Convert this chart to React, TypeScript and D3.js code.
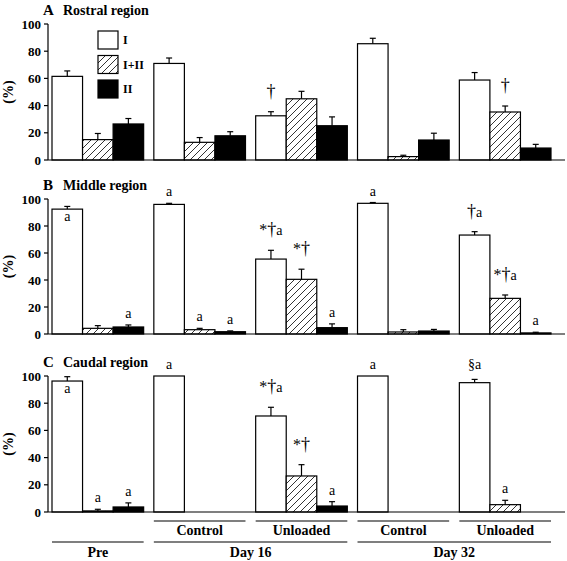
import React from "react";
import * as d3 from "d3";

const groups = ["Pre", "D16 Control", "D16 Unloaded", "D32 Control", "D32 Unloaded"];
const seriesNames = ["I", "I+II", "II"];
const yTicks = [0, 20, 40, 60, 80, 100];

// Rostral region (A)
const rostralI = [61.5, 71, 32.5, 85.5, 58.8];
const rostralIErr = [4, 4, 3, 4, 5.5];
const rostralI_II = [15, 13, 45, 2.5, 35.3];
const rostralI_IIErr = [4.5, 3.5, 5.5, 1, 4.4];
const rostralII = [26.5, 17.8, 25.2, 14.7, 8.8];
const rostralIIErr = [4, 3, 6.5, 5, 2.7];
const rostralAnnI = ["", "", "†", "", ""];
const rostralAnnI_II = ["", "", "", "", "†"];
const rostralAnnII = ["", "", "", "", ""];

// Middle region (B)
const middleI = [92.5, 96, 55.5, 96.8, 73.3];
const middleIErr = [2, 0.8, 6.5, 0.6, 2.5];
const middleI_II = [4.2, 3.2, 40.5, 1.5, 26.4];
const middleI_IIErr = [2, 1, 7.5, 1.7, 2.5];
const middleII = [5.2, 1.7, 4.7, 2.2, 0.8];
const middleIIErr = [1.5, 0.6, 2.8, 1.2, 0.5];
const middleAnnI = ["a", "a", "*†a", "a", "†a"];
const middleAnnI_II = ["", "a", "*†", "", "*†a"];
const middleAnnII = ["a", "a", "a", "", "a"];

// Caudal region (C)
const caudalI = [96.3, 100, 70.6, 100, 95.1];
const caudalIErr = [3.2, 0, 6.4, 0, 2.4];
const caudalI_II = [0.8, 0, 26.5, 0, 5.4];
const caudalI_IIErr = [1.2, 0, 8.3, 0, 3.2];
const caudalII = [3.7, 0, 4.4, 0, 0];
const caudalIIErr = [3, 0, 3.2, 0, 0];
const caudalAnnI = ["a", "a", "*†a", "a", "§a"];
const caudalAnnI_II = ["a", "", "*†", "", "a"];
const caudalAnnII = ["a", "", "a", "", ""];

const FONT = "'Liberation Serif', 'Times New Roman', serif";

const xGroup = d3.scaleBand<string>().domain(groups).range([52, 551]).paddingInner(0.1).paddingOuter(0);
const xSeries = d3.scaleBand<string>().domain(seriesNames).range([0, xGroup.bandwidth()]).padding(0);

const fills = ["#fff", "url(#hatch)", "#000"];

function Annot({ x, y, text }: { x: number; y: number; text: string }) {
  const parts = text.split("");
  return (
    <text x={x} y={y} textAnchor="middle" fontFamily={FONT} fontSize={14} fill="#000">
      {parts.map((c, i) => (
        <tspan key={i} fontSize={c === "†" ? 18 : c === "*" ? 16 : 14}>{c}</tspan>
      ))}
    </text>
  );
}

function Panel(props: {
  letter: string; title: string; top: number; bottom: number;
  values: number[][]; errs: number[][]; annots: string[][]; insideFirst: boolean;
}) {
  const { letter, title, top, bottom, values, errs, annots, insideFirst } = props;
  const y = d3.scaleLinear().domain([0, 100]).range([bottom, top]);
  return (
    <g>
      <text x={43} y={top - 9} fontFamily={FONT} fontWeight="bold" fontSize={15}>{letter}</text>
      <text x={63} y={top - 9} fontFamily={FONT} fontWeight="bold" fontSize={14}>{title}</text>
      <text transform={`translate(13,${(top + bottom) / 2}) rotate(-90)`} textAnchor="middle"
        fontFamily={FONT} fontWeight="bold" fontSize={14}>(%)</text>
      {yTicks.map((t) => (
        <g key={t}>
          <line x1={44} x2={48} y1={y(t)} y2={y(t)} stroke="#000" strokeWidth={1.2} />
          <text x={41} y={y(t) + 4.5} textAnchor="end" fontFamily={FONT} fontWeight="bold" fontSize={13}>{t}</text>
        </g>
      ))}
      <line x1={48} x2={48} y1={top} y2={bottom} stroke="#000" strokeWidth={1.2} />
      {seriesNames.map((s, si) =>
        groups.map((g, gi) => {
          const v = values[si][gi];
          const e = errs[si][gi];
          const x0 = (xGroup(g) as number) + (xSeries(s) as number);
          const w = xSeries.bandwidth();
          const cx = x0 + w / 2;
          const ann = annots[si][gi];
          const eTop = y(v + e);
          let ay = eTop - (ann.includes("†") ? 15 : ann.includes("§") ? 10 : 7);
          if (si === 0 && gi === 0 && insideFirst) ay = y(v) + 12;
          return (
            <g key={s + g}>
              {e > 0 && (
                <g>
                  <line x1={cx} x2={cx} y1={y(v)} y2={eTop} stroke="#000" strokeWidth={1.2} />
                  <line x1={cx - 3} x2={cx + 3} y1={eTop} y2={eTop} stroke="#000" strokeWidth={1.2} />
                </g>
              )}
              {v > 0 && (
                <rect x={x0} y={y(v)} width={w} height={bottom - y(v)} fill={fills[si]} stroke="#000" strokeWidth={1.2} />
              )}
              {ann && <Annot x={cx} y={ay} text={ann} />}
            </g>
          );
        })
      )}
      <line x1={48} x2={565} y1={bottom} y2={bottom} stroke="#000" strokeWidth={1.2} />
    </g>
  );
}

export default function App() {
  const gx = (i: number) => xGroup(groups[i]) as number;
  const bw = xGroup.bandwidth();
  const subLabels = [null, "Control", "Unloaded", "Control", "Unloaded"];
  const mainLabels = [
    { text: "Pre", from: 0, to: 0 },
    { text: "Day 16", from: 1, to: 2 },
    { text: "Day 32", from: 3, to: 4 },
  ];
  return (
    <svg width={567} height={561} style={{ position: "absolute", left: 0, top: 0, background: "#fff" }}>
      <defs>
        <pattern id="hatch" patternUnits="userSpaceOnUse" width={7} height={7}>
          <rect width={7} height={7} fill="#fff" />
          <path d="M-1,1 l2,-2 M0,7 l7,-7 M6,8 l2,-2" stroke="#000" strokeWidth={0.8} />
        </pattern>
      </defs>
      <Panel letter="A" title="Rostral region" top={24} bottom={160}
        values={[rostralI, rostralI_II, rostralII]} errs={[rostralIErr, rostralI_IIErr, rostralIIErr]}
        annots={[rostralAnnI, rostralAnnI_II, rostralAnnII]} insideFirst={false} />
      <Panel letter="B" title="Middle region" top={199} bottom={334}
        values={[middleI, middleI_II, middleII]} errs={[middleIErr, middleI_IIErr, middleIIErr]}
        annots={[middleAnnI, middleAnnI_II, middleAnnII]} insideFirst={true} />
      <Panel letter="C" title="Caudal region" top={376} bottom={512}
        values={[caudalI, caudalI_II, caudalII]} errs={[caudalIErr, caudalI_IIErr, caudalIIErr]}
        annots={[caudalAnnI, caudalAnnI_II, caudalAnnII]} insideFirst={true} />
      {/* legend */}
      {seriesNames.map((s, i) => (
        <g key={s}>
          <rect x={98} y={31 + i * 24.5} width={20} height={18} fill={fills[i]} stroke="#000" strokeWidth={1.2} />
          <text x={123} y={44 + i * 24.5} fontFamily={FONT} fontWeight="bold" fontSize={12}>{s}</text>
        </g>
      ))}
      {/* group labels */}
      {subLabels.map((l, i) => l && (
        <g key={i}>
          <line x1={gx(i)} x2={gx(i) + bw} y1={521} y2={521} stroke="#000" strokeWidth={1.2} />
          <text x={gx(i) + bw / 2} y={535} textAnchor="middle" fontFamily={FONT} fontWeight="bold" fontSize={14}>{l}</text>
        </g>
      ))}
      {mainLabels.map((m) => (
        <g key={m.text}>
          <line x1={gx(m.from)} x2={gx(m.to) + bw} y1={542} y2={542} stroke="#000" strokeWidth={1.2} />
          <text x={(gx(m.from) + gx(m.to) + bw) / 2} y={557} textAnchor="middle" fontFamily={FONT} fontWeight="bold" fontSize={14}>{m.text}</text>
        </g>
      ))}
    </svg>
  );
}
